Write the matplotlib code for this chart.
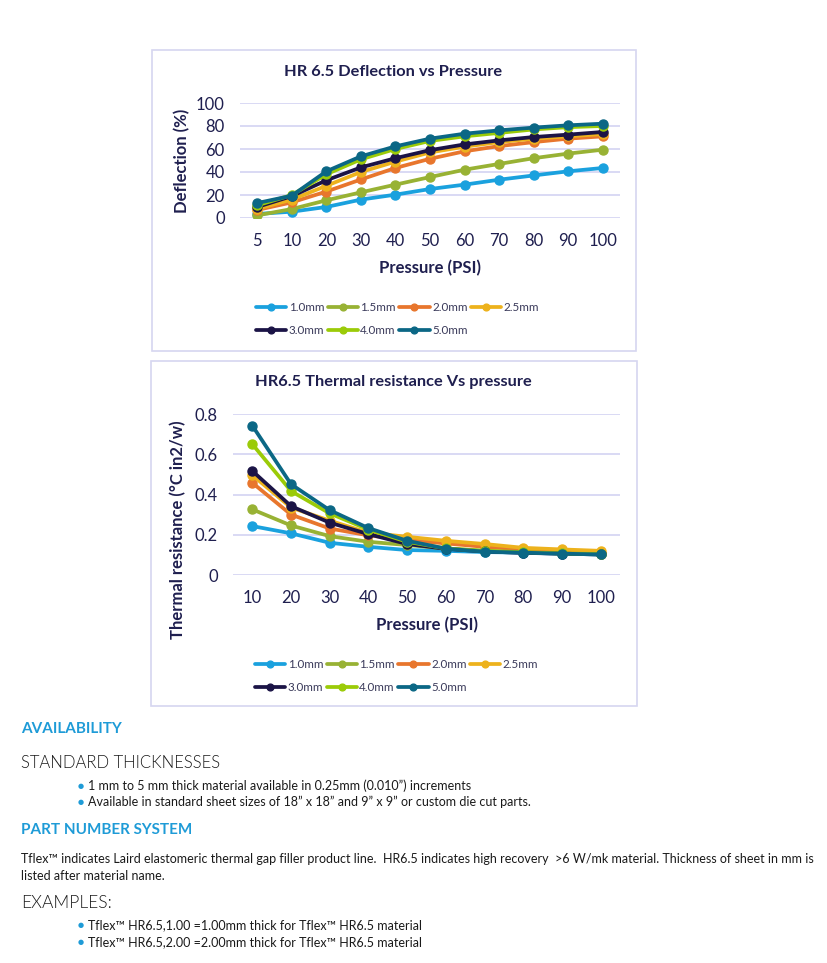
import matplotlib.pyplot as plt
from matplotlib.patches import Rectangle

W, H = 828, 963

thick = ['1.0mm', '1.5mm', '2.0mm', '2.5mm', '3.0mm', '4.0mm', '5.0mm']
colors = ['#1AA1DE', '#98B234', '#E8762D', '#EDB21C', '#1B1446', '#9BCB08', '#0B6785']

psi_defl = ['5', '10', '20', '30', '40', '50', '60', '70', '80', '90', '100']
deflection = {
    '1.0mm': [3.5, 5.5, 9.6, 16, 20.3, 25.2, 29, 33.3, 37, 40.6, 43.5],
    '1.5mm': [2.3, 7.8, 15.4, 22.3, 29, 35.6, 42, 47, 52, 56, 59.4],
    '2.0mm': [7, 13.6, 23, 33.5, 43.5, 51.5, 58, 62.5, 66, 69, 71],
    '2.5mm': [8, 16, 28, 40, 49, 57, 62, 66, 69, 71, 73],
    '3.0mm': [9.6, 19, 32.8, 44, 52, 59, 64, 67.5, 70.4, 72.5, 74.8],
    '4.0mm': [11, 20, 38, 51, 60, 67, 71, 74, 77, 79, 80],
    '5.0mm': [13, 19.4, 40.6, 53.6, 62.3, 69, 73.3, 76.2, 78.6, 80.6, 82],
}

psi_res = ['10', '20', '30', '40', '50', '60', '70', '80', '90', '100']
resistance = {
    '1.0mm': [0.243, 0.207, 0.160, 0.140, 0.124, 0.120, 0.114, 0.111, 0.106, 0.102],
    '1.5mm': [0.326, 0.246, 0.193, 0.165, 0.149, 0.132, 0.120, 0.114, 0.107, 0.104],
    '2.0mm': [0.458, 0.300, 0.231, 0.197, 0.174, 0.157, 0.140, 0.127, 0.119, 0.111],
    '2.5mm': [0.496, 0.335, 0.270, 0.210, 0.190, 0.170, 0.154, 0.135, 0.127, 0.120],
    '3.0mm': [0.517, 0.342, 0.260, 0.203, 0.154, 0.130, 0.117, 0.110, 0.106, 0.102],
    '4.0mm': [0.650, 0.417, 0.306, 0.226, 0.165, 0.132, 0.120, 0.114, 0.107, 0.104],
    '5.0mm': [0.742, 0.451, 0.322, 0.233, 0.170, 0.131, 0.116, 0.111, 0.106, 0.102],
}

navy = '#1F1F4F'
grid = '#D3D3F2'
blue_head = '#1E9BD7'
FONT = ['Lato', 'DejaVu Sans']

plt.rcParams['font.family'] = FONT

fig = plt.figure(figsize=(W / 100, H / 100), dpi=100)


def fx(x):
    return x / W


def fy(y):
    return 1 - y / H


def box(x0, y0, x1, y1):
    fig.patches.append(Rectangle((fx(x0), fy(y1)), fx(x1 - x0), (y1 - y0) / H,
                                 transform=fig.transFigure, fill=False,
                                 edgecolor='#D6D6F0', linewidth=1.2))


def chart(rect, cats, data, ylim, yticks, ytl, title, title_xy, ylabel,
          xlab_xy, ylab_xy, leg_xy):
    l, t, r, b = rect
    ax = fig.add_axes([fx(l), fy(b), fx(r - l), (b - t) / H])
    xs = range(len(cats))
    handles = []
    for name, c in zip(thick, colors):
        h, = ax.plot(xs, data[name], color=c, lw=2.7, marker='o', ms=6.5,
                     label=name, solid_capstyle='round')
        handles.append(h)
    ax.set_xlim(-0.5, len(cats) - 0.5)
    ax.set_ylim(*ylim)
    ax.set_yticks(yticks)
    ax.set_yticklabels(ytl)
    ax.set_xticks(list(xs))
    ax.set_xticklabels(cats)
    ax.tick_params(length=0, labelsize=12, colors=navy, pad=11)
    for s in ax.spines.values():
        s.set_visible(False)
    ax.grid(axis='y', color=grid, lw=1.2)
    ax.set_axisbelow(True)
    ax.set_xlabel('Pressure (PSI)', fontsize=12, fontweight='bold', color=navy, va='center')
    ax.xaxis.set_label_coords((xlab_xy[0] - l) / (r - l), (b - xlab_xy[1]) / (b - t))
    ax.set_ylabel(ylabel, fontsize=12, fontweight='bold', color=navy, va='center')
    ax.yaxis.set_label_coords((ylab_xy[0] - l) / (r - l), (b - ylab_xy[1]) / (b - t))
    fig.text(fx(title_xy[0]), fy(title_xy[1]), title, ha='center', va='center',
             fontsize=11.8, fontweight='bold', color=navy)
    order = [0, 4, 1, 5, 2, 6, 3]
    fig.legend([handles[i] for i in order], [thick[i] for i in order],
               loc='upper left', bbox_to_anchor=(fx(leg_xy[0]), fy(leg_xy[1])),
               ncol=4, frameon=False, fontsize=8.4, handlelength=2.6,
               handletextpad=0.2, columnspacing=0.3, labelspacing=1.05,
               borderpad=0, borderaxespad=0, labelcolor='#3A3A5A',
               markerscale=0.75)
    return ax


box(152, 50, 636, 351)
chart((240, 103, 620, 218), psi_defl, deflection, (0, 100), range(0, 101, 20),
      [str(v) for v in range(0, 101, 20)], 'HR 6.5 Deflection vs Pressure',
      (393, 72), 'Deflection (%)', (430, 268), (182, 161), (256, 302))

box(151, 361, 637, 706)
chart((233, 414, 620, 575), psi_res, resistance, (0, 0.8), [0, 0.2, 0.4, 0.6, 0.8],
      ['0', '0.2', '0.4', '0.6', '0.8'], 'HR6.5 Thermal resistance Vs pressure',
      (393, 382), 'Thermal resistance (\u00b0C in2/w)', (427, 625), (178, 530), (255, 659))

# text block below the charts
fig.text(fx(21), fy(729), 'AVAILABILITY', fontsize=11, fontweight='bold',
         color=blue_head, va='center')
fig.text(fx(21), fy(763), 'STANDARD THICKNESSES', fontsize=12, fontweight=300,
         color='#1A1A1A', va='center')
bul1 = ['1 mm to 5 mm thick material available in 0.25mm (0.010\u201d) increments',
        'Available in standard sheet sizes of 18\u201d x 18\u201d and 9\u201d x 9\u201d or custom die cut parts.']
for y, s in zip([786, 802], bul1):
    fig.text(fx(78), fy(y), '\u25cf', fontsize=5, color=blue_head, va='center', family='DejaVu Sans')
    fig.text(fx(88), fy(y), s, fontsize=9, color='#1A1A1A', va='center')
fig.text(fx(21), fy(830), 'PART NUMBER SYSTEM', fontsize=11, fontweight='bold',
         color=blue_head, va='center')
para = ['Tflex\u2122 indicates Laird elastomeric thermal gap filler product line.  HR6.5 indicates high recovery  >6 W/mk material. Thickness of sheet in mm is',
        'listed after material name.']
for y, s in zip([859, 876], para):
    fig.text(fx(21), fy(y), s, fontsize=9, color='#1A1A1A', va='center')
fig.text(fx(21), fy(903), 'EXAMPLES:', fontsize=12.5, fontweight=300,
         color='#1A1A1A', va='center')
bul2 = ['Tflex\u2122 HR6.5,1.00 =1.00mm thick for Tflex\u2122 HR6.5 material',
        'Tflex\u2122 HR6.5,2.00 =2.00mm thick for Tflex\u2122 HR6.5 material']
for y, s in zip([925, 942], bul2):
    fig.text(fx(78), fy(y), '\u25cf', fontsize=5, color=blue_head, va='center', family='DejaVu Sans')
    fig.text(fx(88), fy(y), s, fontsize=9, color='#1A1A1A', va='center')

fig.savefig('out.png', dpi=100)
